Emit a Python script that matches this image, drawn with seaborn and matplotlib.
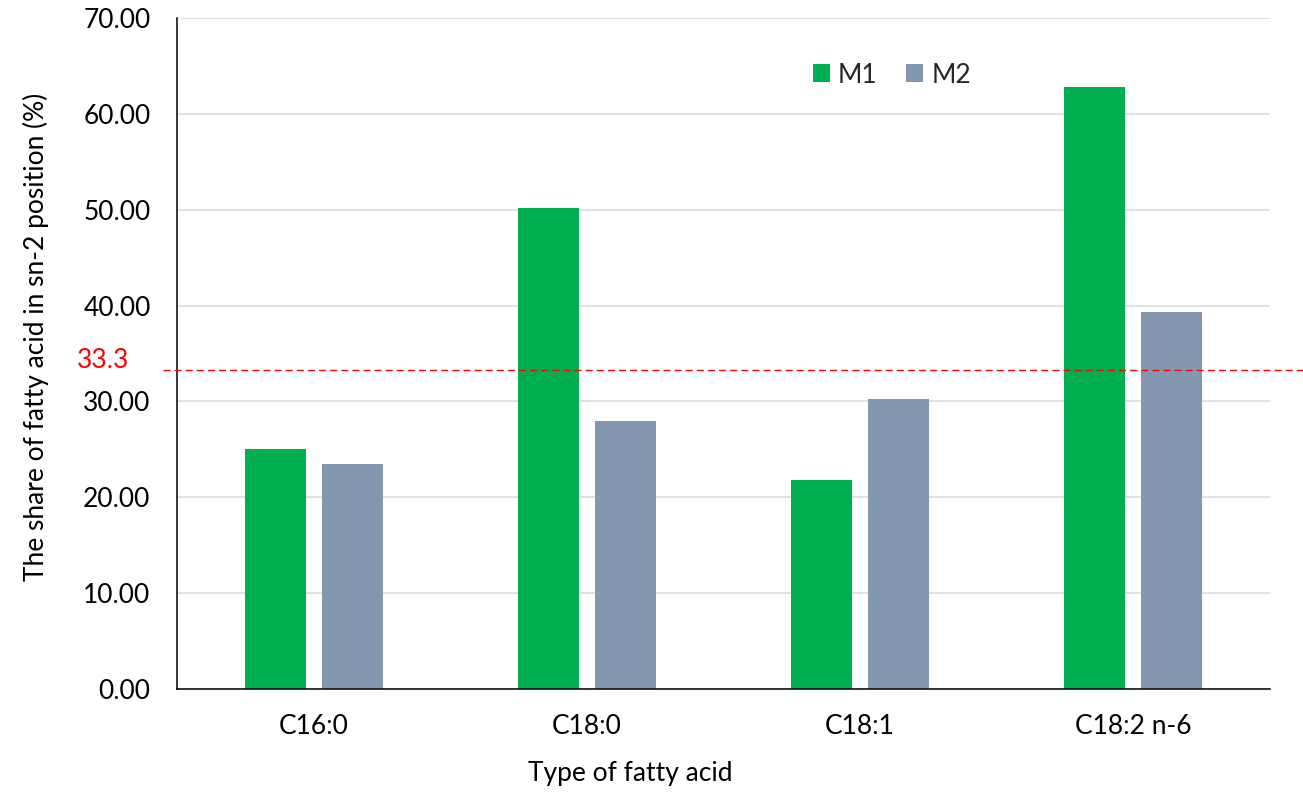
import matplotlib
matplotlib.use("Agg")
import matplotlib.pyplot as plt
import matplotlib.transforms as mtransforms
from matplotlib.ticker import FormatStrFormatter
import seaborn as sns
import pandas as pd

# Share of each fatty acid found in the sn-2 position (%)
categories = ["C16:0", "C18:0", "C18:1", "C18:2 n-6"]
series_names = ["M1", "M2"]
m1_values = [25.04, 50.21, 21.80, 62.83]
m2_values = [23.47, 27.96, 30.25, 39.30]
reference_value = 33.3
y_ticks = [0, 10, 20, 30, 40, 50, 60, 70]

df = pd.DataFrame({
    "acid": categories * 2,
    "series": [series_names[0]] * len(categories) + [series_names[1]] * len(categories),
    "share": m1_values + m2_values,
})

sns.set_theme(style="white")
plt.rcParams["font.family"] = ["Lato", "DejaVu Sans"]
FS = 19

W, H = 1303, 792
fig = plt.figure(figsize=(W / 100, H / 100), dpi=100)
ax = fig.add_axes([177 / W, 1 - 689 / H, (1270 - 177) / W, (689 - 18) / H])

sns.barplot(
    data=df, x="acid", y="share", hue="series",
    palette=["#00B050", "#8497B0"], saturation=1,
    width=0.5636, gap=0.208, linewidth=0, errorbar=None, ax=ax,
)

ax.set_ylim(0, 70)
ax.set_xlim(-0.5, len(categories) - 0.5)
ax.set_yticks(y_ticks)
ax.yaxis.set_major_formatter(FormatStrFormatter("%.2f"))
ax.grid(axis="y", color="#D9D9D9", linewidth=1.1)
ax.set_axisbelow(True)

for side in ("top", "right"):
    ax.spines[side].set_visible(False)
for side in ("left", "bottom"):
    ax.spines[side].set_color("black")
    ax.spines[side].set_linewidth(1.1)

ax.tick_params(axis="y", length=0, pad=19, labelsize=FS, labelcolor="black")
ax.tick_params(axis="x", length=0, pad=18, labelsize=FS, labelcolor="black")

ax.set_xlabel("Type of fatty acid", fontsize=FS, color="black")
ax.set_ylabel("The share of fatty acid in sn-2 position (%)", fontsize=FS,
              color="black")
ax.xaxis.set_label_coords(0.415, -0.107)
ax.yaxis.set_label_coords(-0.117, 0.525)

# Reference level line with its value label
ax.axhline(reference_value, xmin=-0.0128, xmax=1.03, color="#FF0000",
           linewidth=1.0, dashes=(5, 3), clip_on=False, zorder=5)
trans = mtransforms.blended_transform_factory(ax.transAxes, ax.transData)
ax.text(-0.068, reference_value + 0.2, f"{reference_value}", transform=trans,
        ha="center", va="baseline", color="#FF0000", fontsize=FS)

ax.legend(
    loc="center", bbox_to_anchor=(0.654, 0.915), ncol=2, frameon=False,
    fontsize=FS, handlelength=0.65, handleheight=0.65, handletextpad=0.3,
    columnspacing=1.1, title=None,
)

fig.savefig("out.png", dpi=100)
